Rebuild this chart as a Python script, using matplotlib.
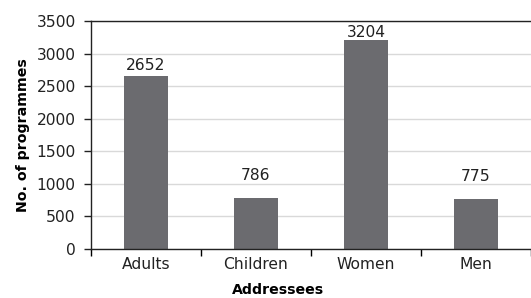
import numpy as np
import matplotlib.pyplot as plt

categories = ['Adults', 'Children', 'Women', 'Men']
counts = [2652, 786, 3204, 775]
yticks = [0, 500, 1000, 1500, 2000, 2500, 3000, 3500]

plt.rcParams['font.family'] = ['DejaVu Sans']

fig = plt.figure(figsize=(5.31, 2.98), dpi=100)
# axes runs past the right edge, as in the original crop
ax = fig.add_axes([91 / 531, (298 - 249) / 298, 440 / 531, 228 / 298])

x = np.arange(len(categories))
bars = ax.bar(x, counts, width=0.4, color='#6b6b6f', zorder=2)
# labels were hand-placed in the original, short bars get lifted more
lift = [2, 10.6, 0.3, 10.6]
for b, v, dy in zip(bars, counts, lift):
    ax.annotate(str(v), (b.get_x() + b.get_width() / 2, v), xytext=(0, dy),
                textcoords='offset points', ha='center', va='bottom',
                fontsize=11.2, color='#222222')

ax.set_xlim(-0.5, -0.5 + 440 / 113.5)
ax.set_ylim(0, 3500)
ax.set_yticks(yticks)
ax.yaxis.grid(True, color='#d9d9d9', linewidth=1.0, zorder=0)
ax.set_axisbelow(True)

ax.set_xticks(x)
ax.set_xticklabels(categories)
ax.set_xticks(np.arange(-0.5, len(categories)), minor=True)
ax.tick_params(axis='x', which='major', length=0, pad=6)
ax.tick_params(axis='x', which='minor', length=5, width=1, direction='out')
ax.tick_params(axis='y', length=5, width=1, direction='out', pad=6)
ax.tick_params(labelsize=11.2, colors='#222222')

for s in ['left', 'bottom', 'top']:
    ax.spines[s].set_color('#222222')
    ax.spines[s].set_linewidth(1.0)
ax.spines['right'].set_visible(False)

ax.set_ylabel('No. of programmes', fontsize=10.2, fontweight='bold', labelpad=5)
ax.set_xlabel('Addressees', fontsize=10.2, fontweight='bold')
ax.xaxis.set_label_coords(0.424, -0.15)

fig.savefig('out.png', dpi=100)
